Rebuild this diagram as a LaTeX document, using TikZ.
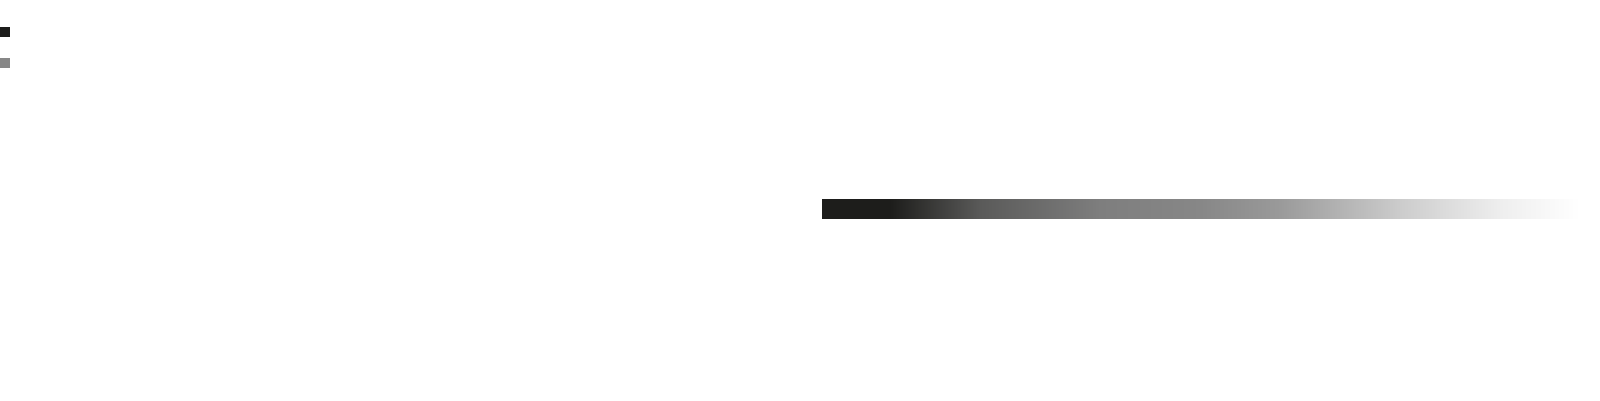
\documentclass[tikz,border=0pt]{standalone}
\definecolor{dk}{HTML}{1D1D1B}
\definecolor{gr}{HTML}{878787}
\definecolor{gA}{HTML}{5A5A59}
\definecolor{gB}{HTML}{7E7E7E}
\definecolor{gC}{HTML}{9A9A9A}
\definecolor{gD}{HTML}{CCCCCC}
\definecolor{gE}{HTML}{EEEEEE}
\begin{document}
\begin{tikzpicture}[x=1pt,y=-1pt]
\useasboundingbox (0,0) rectangle (1600,400);
\fill[dk] (0,26.7) rectangle (10,36.7);
\fill[gr] (0,58.3) rectangle (10,68.3);
% gradient bar
\fill[dk] (822,199) rectangle (890.5,218.5);
\shade[left color=dk,right color=gA] (890,199) rectangle (980.5,218.5);
\shade[left color=gA,right color=gB] (980,199) rectangle (1100.5,218.5);
\shade[left color=gB,right color=gr] (1100,199) rectangle (1200.5,218.5);
\shade[left color=gr,right color=gC] (1200,199) rectangle (1280.5,218.5);
\shade[left color=gC,right color=gD] (1280,199) rectangle (1400.5,218.5);
\shade[left color=gD,right color=gE] (1400,199) rectangle (1500.5,218.5);
\shade[left color=gE,right color=white] (1500,199) rectangle (1580,218.5);
\end{tikzpicture}
\end{document}
